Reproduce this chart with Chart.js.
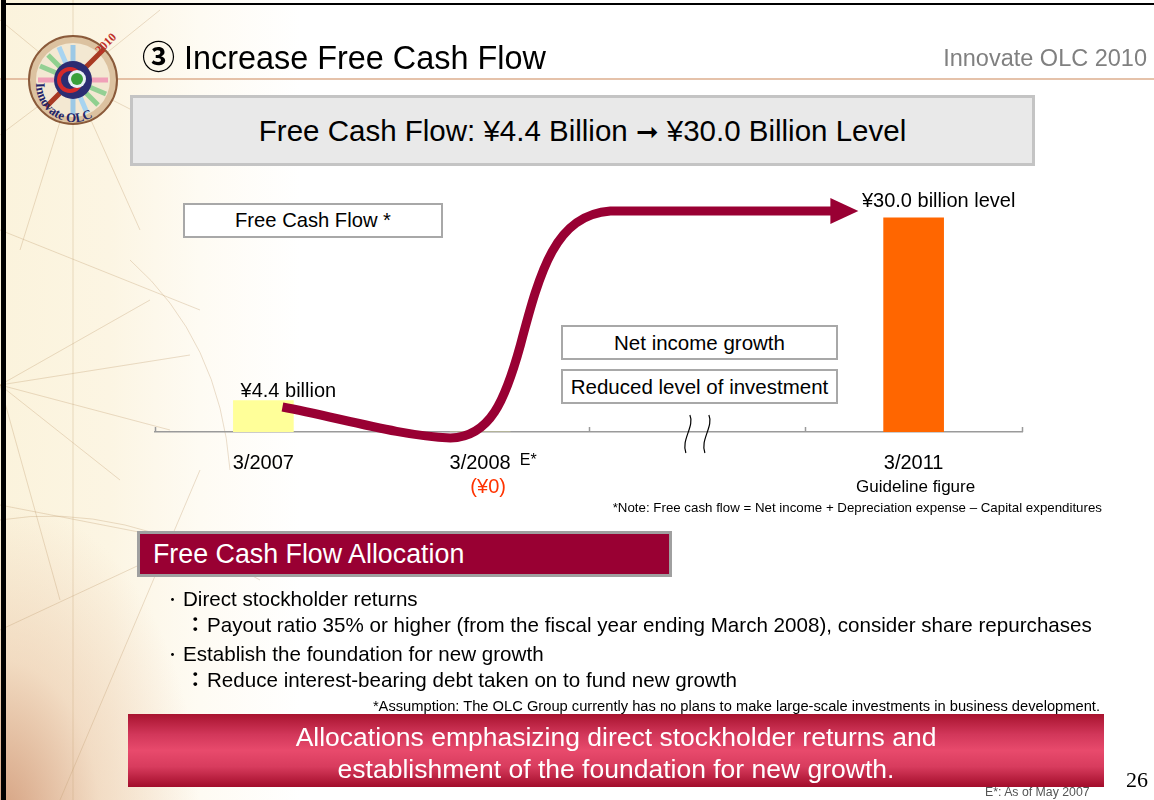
<!DOCTYPE html>
<html><head><meta charset="utf-8">
<script src="https://cdn.jsdelivr.net/npm/chart.js@4.4.1/dist/chart.umd.min.js"></script>
<style>
html,body{margin:0;padding:0;width:1154px;height:800px;overflow:hidden;background:#fff;font-family:'Liberation Sans',Arial,sans-serif;color:#000;}
#bg{position:absolute;left:0;top:0;width:1154px;height:800px;
 background:
  radial-gradient(ellipse 200px 320px at 0px 820px, rgba(206,146,112,0.85) 0%, rgba(230,190,160,0.45) 50%, rgba(255,255,255,0) 100%),
  linear-gradient(to right, #fbf3dc 0px, #fcf5e3 110px, #fefbf3 200px, #ffffff 300px);}
.abs{position:absolute;white-space:nowrap;}
.box{position:absolute;box-sizing:border-box;text-align:center;white-space:nowrap;}
canvas{position:absolute;left:0;top:0;}
.bul{display:inline-block;width:21px;font-family:'Noto Sans CJK JP';font-size:14px;vertical-align:2px;text-align:center;}
.col{display:inline-block;width:22px;font-family:'Noto Sans CJK JP';font-weight:bold;text-align:left;}
</style></head>
<body>
<div id="bg"></div>
<svg class="abs" style="left:0;top:0" width="1154" height="800">
 <g stroke="rgba(196,160,118,0.35)" stroke-width="1" fill="none">
  <line x1="73" y1="0" x2="73" y2="800"/>
  <line x1="0" y1="385" x2="150" y2="300"/>
  <line x1="0" y1="385" x2="190" y2="355"/>
  <line x1="0" y1="385" x2="170" y2="430"/>
  <line x1="0" y1="385" x2="120" y2="480"/>
  <line x1="0" y1="385" x2="60" y2="600"/>
  <line x1="73" y1="80" x2="0" y2="20"/>
  <line x1="73" y1="80" x2="0" y2="135"/>
  <line x1="73" y1="80" x2="20" y2="250"/>
  <line x1="73" y1="80" x2="160" y2="10"/>
  <line x1="73" y1="80" x2="140" y2="230"/>
  <line x1="73" y1="80" x2="230" y2="160"/>
  <line x1="0" y1="230" x2="200" y2="310"/>
  <line x1="0" y1="505" x2="180" y2="540"/>
  <line x1="0" y1="630" x2="150" y2="560"/>
  <line x1="60" y1="800" x2="200" y2="470"/>
  <path d="M 0 520 Q 120 500 260 580"/>
  <path d="M 130 260 Q 220 340 230 470"/>
 </g>
 <line x1="0" y1="79" x2="1154" y2="79" stroke="#dcae8e" stroke-width="1.5"/>
</svg>
<div class="abs" style="left:1px;top:0;width:5px;height:800px;background:#000"></div>
<div class="abs" style="left:1px;top:3px;width:1153px;height:2px;background:#000"></div>

<svg class="abs" style="left:26px;top:33px" width="100" height="95" viewBox="0 0 100 95">
 <defs><path id="arcB" d="M 10 50 A 38 38 0 0 0 86 52"/></defs>
 <circle cx="47" cy="47" r="44" fill="#dcc2a0" stroke="#8a5a3a" stroke-width="2"/>
 <circle cx="47" cy="47" r="37" fill="#f3e8d2"/>
 <g stroke-width="5">
  <line x1="47" y1="12" x2="47" y2="82" stroke="#9cc9e6"/>
  <line x1="12" y1="47" x2="82" y2="47" stroke="#f0a0b8"/>
  <line x1="22" y1="22" x2="72" y2="72" stroke="#8fd08f"/>
  <line x1="22" y1="72" x2="72" y2="22" stroke="#f4b0c4"/>
  <line x1="33" y1="14" x2="61" y2="80" stroke="#a8d4f0"/>
  <line x1="14" y1="33" x2="80" y2="61" stroke="#94d094"/>
 </g>
 <line x1="20" y1="74" x2="78" y2="16" stroke="#a83a22" stroke-width="5"/>
 <circle cx="47" cy="47" r="19" fill="#2b2d72"/>
 <circle cx="44" cy="47" r="11" fill="none" stroke="#d42a2a" stroke-width="4"/>
 <circle cx="51" cy="46" r="9" fill="#e8f0f4"/>
 <circle cx="51" cy="46" r="6" fill="#3aa03a"/>
 <text x="70" y="20" font-family="Liberation Serif" font-weight="bold" font-size="12" fill="#c0302a" transform="rotate(-45 74 16)">2010</text>
 <text font-family="Liberation Serif" font-weight="bold" font-size="13" fill="#23256a"><textPath href="#arcB">Innovate OLC</textPath></text>
</svg>

<canvas id="c" width="1154" height="800"></canvas>

<div class="abs" style="left:142px;top:35px;height:40px;line-height:40px;font-size:32.4px;"><span style="font-family:'Noto Sans CJK JP','DejaVu Sans';font-weight:bold;font-size:33px;">③</span> Increase Free Cash Flow</div>
<div class="abs" style="right:7px;top:44px;height:28px;line-height:28px;font-size:23.5px;color:#808080;">Innovate OLC 2010</div>

<div class="box" style="left:130px;top:95px;width:905px;height:71px;background:#e9e9e9;border:3px solid #c4c4c4;line-height:65px;font-size:29.5px;">Free Cash Flow: ¥4.4 Billion <span style="font-family:'DejaVu Sans';font-size:27px;">➞</span> ¥30.0 Billion Level</div>

<div class="box" style="left:183px;top:203px;width:260px;height:35px;background:#fff;border:2px solid #a8a8a8;line-height:31px;font-size:20.2px;">Free Cash Flow *</div>
<div class="box" style="left:561px;top:325px;width:277px;height:35px;background:#fff;border:2px solid #a8a8a8;line-height:31px;font-size:20.5px;">Net income growth</div>
<div class="box" style="left:561px;top:369px;width:277px;height:35px;background:#fff;border:2px solid #a8a8a8;line-height:31px;font-size:20.5px;">Reduced level of investment</div>

<div class="abs" style="right:52px;top:500px;height:16px;line-height:16px;font-size:13.3px;">*Note: Free cash flow = Net income + Depreciation expense – Capital expenditures</div>

<div class="box" style="left:137px;top:531px;width:535px;height:46px;background:#990033;border:3px solid #a0a0a0;text-align:left;padding-left:13px;line-height:40px;font-size:26.8px;color:#fff;">Free Cash Flow Allocation</div>

<div class="abs" style="left:162px;top:586px;height:24px;line-height:24px;font-size:20.6px;"><span class="bul">・</span>Direct stockholder returns</div>
<div class="abs" style="left:185px;top:611px;height:24px;line-height:24px;font-size:20.6px;"><span class="col">：</span>Payout ratio 35% or higher (from the fiscal year ending March 2008), consider share repurchases</div>
<div class="abs" style="left:162px;top:641px;height:24px;line-height:24px;font-size:20.6px;"><span class="bul">・</span>Establish the foundation for new growth</div>
<div class="abs" style="left:185px;top:666px;height:24px;line-height:24px;font-size:20.6px;"><span class="col">：</span>Reduce interest-bearing debt taken on to fund new growth</div>

<div class="abs" style="right:54px;top:698px;height:16px;line-height:16px;font-size:14.7px;">*Assumption: The OLC Group currently has no plans to make large-scale investments in business development.</div>

<div class="box" style="left:128px;top:714px;width:976px;height:73px;background:linear-gradient(to bottom,#a8132f 0%,#d2375a 28%,#e84a6c 50%,#d83c5e 72%,#a20c2a 100%);color:#fff;font-size:26.5px;line-height:32px;padding-top:7px;">Allocations emphasizing direct stockholder returns and<br>establishment of the foundation for new growth.</div>

<div class="abs" style="left:1126px;top:766px;height:28px;line-height:28px;font-size:22px;font-family:'Liberation Serif',serif;">26</div>
<div class="abs" style="left:985px;top:785px;height:14px;line-height:14px;font-size:12.3px;color:#555;">E*: As of May 2007</div>

<script>
// ---- data ----
const categories = ['3/2007', '3/2008', '', '3/2011'];
const freeCashFlow = [4.4, 0, null, 30];
const barColors = ['#FFFF99', '#FFFF99', '#FFFF99', '#FF6600'];
const valueLabels = ['¥4.4 billion', '', '', '¥30.0 billion level'];
const subLabels = ['', '(¥0)', '', 'Guideline figure'];
const estimateMark = ['', 'E*', '', ''];
// trend arrow in data space: [category index, value]
const arrowStart = [0.088, 3.5];
const arrowCurves = [
  [[0.355, 1.96], [0.632, -0.56], [0.863, -0.84]],
  [[1.047, -0.7], [1.116, 4.48], [1.186, 12.18]],
  [[1.278, 22.68], [1.347, 30.38], [1.601, 30.94]]
];
const arrowLineEnd = [2.625, 30.94];
const arrowTip = [2.745, 30.94];
const axisBreakAt = 2;

// ---- styles ----
const valueLabelOffset = [[25, -9], [0, 0], [0, 0], [25, -16]];
const subLabelStyle = [null, {color:'#FF3300', size:20}, null, {color:'#000', size:17}];
const FONT = "'Liberation Sans', Arial, sans-serif";

const decorations = {
  id: 'decorations',
  afterDatasetsDraw(chart) {
    const {ctx, chartArea} = chart;
    const x = chart.scales.x, y = chart.scales.y;
    const P = p => [x.getPixelForValue(p[0]), y.getPixelForValue(p[1])];
    const base = chartArea.bottom;
    ctx.save();
    ctx.strokeStyle = '#9a9a9a'; ctx.lineWidth = 1.5;
    for (let i = 0; i <= categories.length; i++) {
      const xx = Math.round(x.getPixelForValue(i - 0.5)) + 0.5;
      ctx.beginPath(); ctx.moveTo(xx, base); ctx.lineTo(xx, base - 5); ctx.stroke();
    }
    const bx = x.getPixelForValue(axisBreakAt);
    ctx.strokeStyle = '#000'; ctx.lineWidth = 1.2;
    [-9, 10].forEach(dx => {
      const cx = bx + dx;
      ctx.beginPath();
      ctx.moveTo(cx + 2, base - 17);
      ctx.bezierCurveTo(cx + 7, base - 6, cx - 7, base + 8, cx - 2, base + 21);
      ctx.stroke();
    });
    ctx.strokeStyle = '#990033'; ctx.fillStyle = '#990033';
    ctx.lineWidth = 9; ctx.lineJoin = 'round';
    ctx.beginPath();
    const s = P(arrowStart); ctx.moveTo(s[0], s[1]);
    arrowCurves.forEach(c => {
      const a = P(c[0]), b = P(c[1]), e = P(c[2]);
      ctx.bezierCurveTo(a[0], a[1], b[0], b[1], e[0], e[1]);
    });
    const le = P(arrowLineEnd); ctx.lineTo(le[0], le[1]);
    ctx.stroke();
    const t = P(arrowTip);
    ctx.beginPath();
    ctx.moveTo(t[0], t[1]);
    ctx.lineTo(le[0] - 2, t[1] - 13);
    ctx.lineTo(le[0] - 2, t[1] + 13);
    ctx.closePath(); ctx.fill();
    ctx.fillStyle = '#000'; ctx.font = '20px ' + FONT;
    ctx.textAlign = 'center'; ctx.textBaseline = 'middle';
    const meta = chart.getDatasetMeta(0);
    valueLabels.forEach((lab, i) => {
      if (!lab) return;
      const bar = meta.data[i];
      ctx.fillText(lab, bar.x + valueLabelOffset[i][0], bar.y + valueLabelOffset[i][1]);
    });
    subLabels.forEach((lab, i) => {
      if (!lab) return;
      const st = subLabelStyle[i];
      ctx.fillStyle = st.color; ctx.font = st.size + 'px ' + FONT;
      ctx.fillText(lab, x.getPixelForValue(i) + (i === 1 ? 8 : 2), base + 55);
    });
    ctx.fillStyle = '#000';
    estimateMark.forEach((lab, i) => {
      if (!lab) return;
      ctx.font = '20px ' + FONT;
      const w = ctx.measureText(categories[i]).width;
      ctx.font = '16px ' + FONT; ctx.textAlign = 'left';
      ctx.fillText(lab, x.getPixelForValue(i) + w / 2 + 9, base + 29);
    });
    ctx.restore();
  }
};

new Chart(document.getElementById('c'), {
  type: 'bar',
  data: {
    labels: categories,
    datasets: [{
      data: freeCashFlow,
      backgroundColor: barColors,
      barThickness: 60,
      borderWidth: 0
    }]
  },
  options: {
    responsive: false,
    animation: false,
    devicePixelRatio: 1,
    layout: { padding: { left: 155, right: 132, top: 182, bottom: 308 } },
    plugins: { legend: { display: false }, tooltip: { enabled: false } },
    scales: {
      x: {
        offset: true,
        grid: { display: false, drawTicks: false },
        border: { display: true, color: '#9a9a9a', width: 1.5 },
        ticks: { color: '#000', font: { size: 20, family: FONT }, padding: 19, maxRotation: 0, autoSkip: false },
        afterFit: sc => { sc.height = 60; }
      },
      y: { display: false, min: 0, max: 35 }
    }
  },
  plugins: [decorations]
});
</script>
</body></html>
